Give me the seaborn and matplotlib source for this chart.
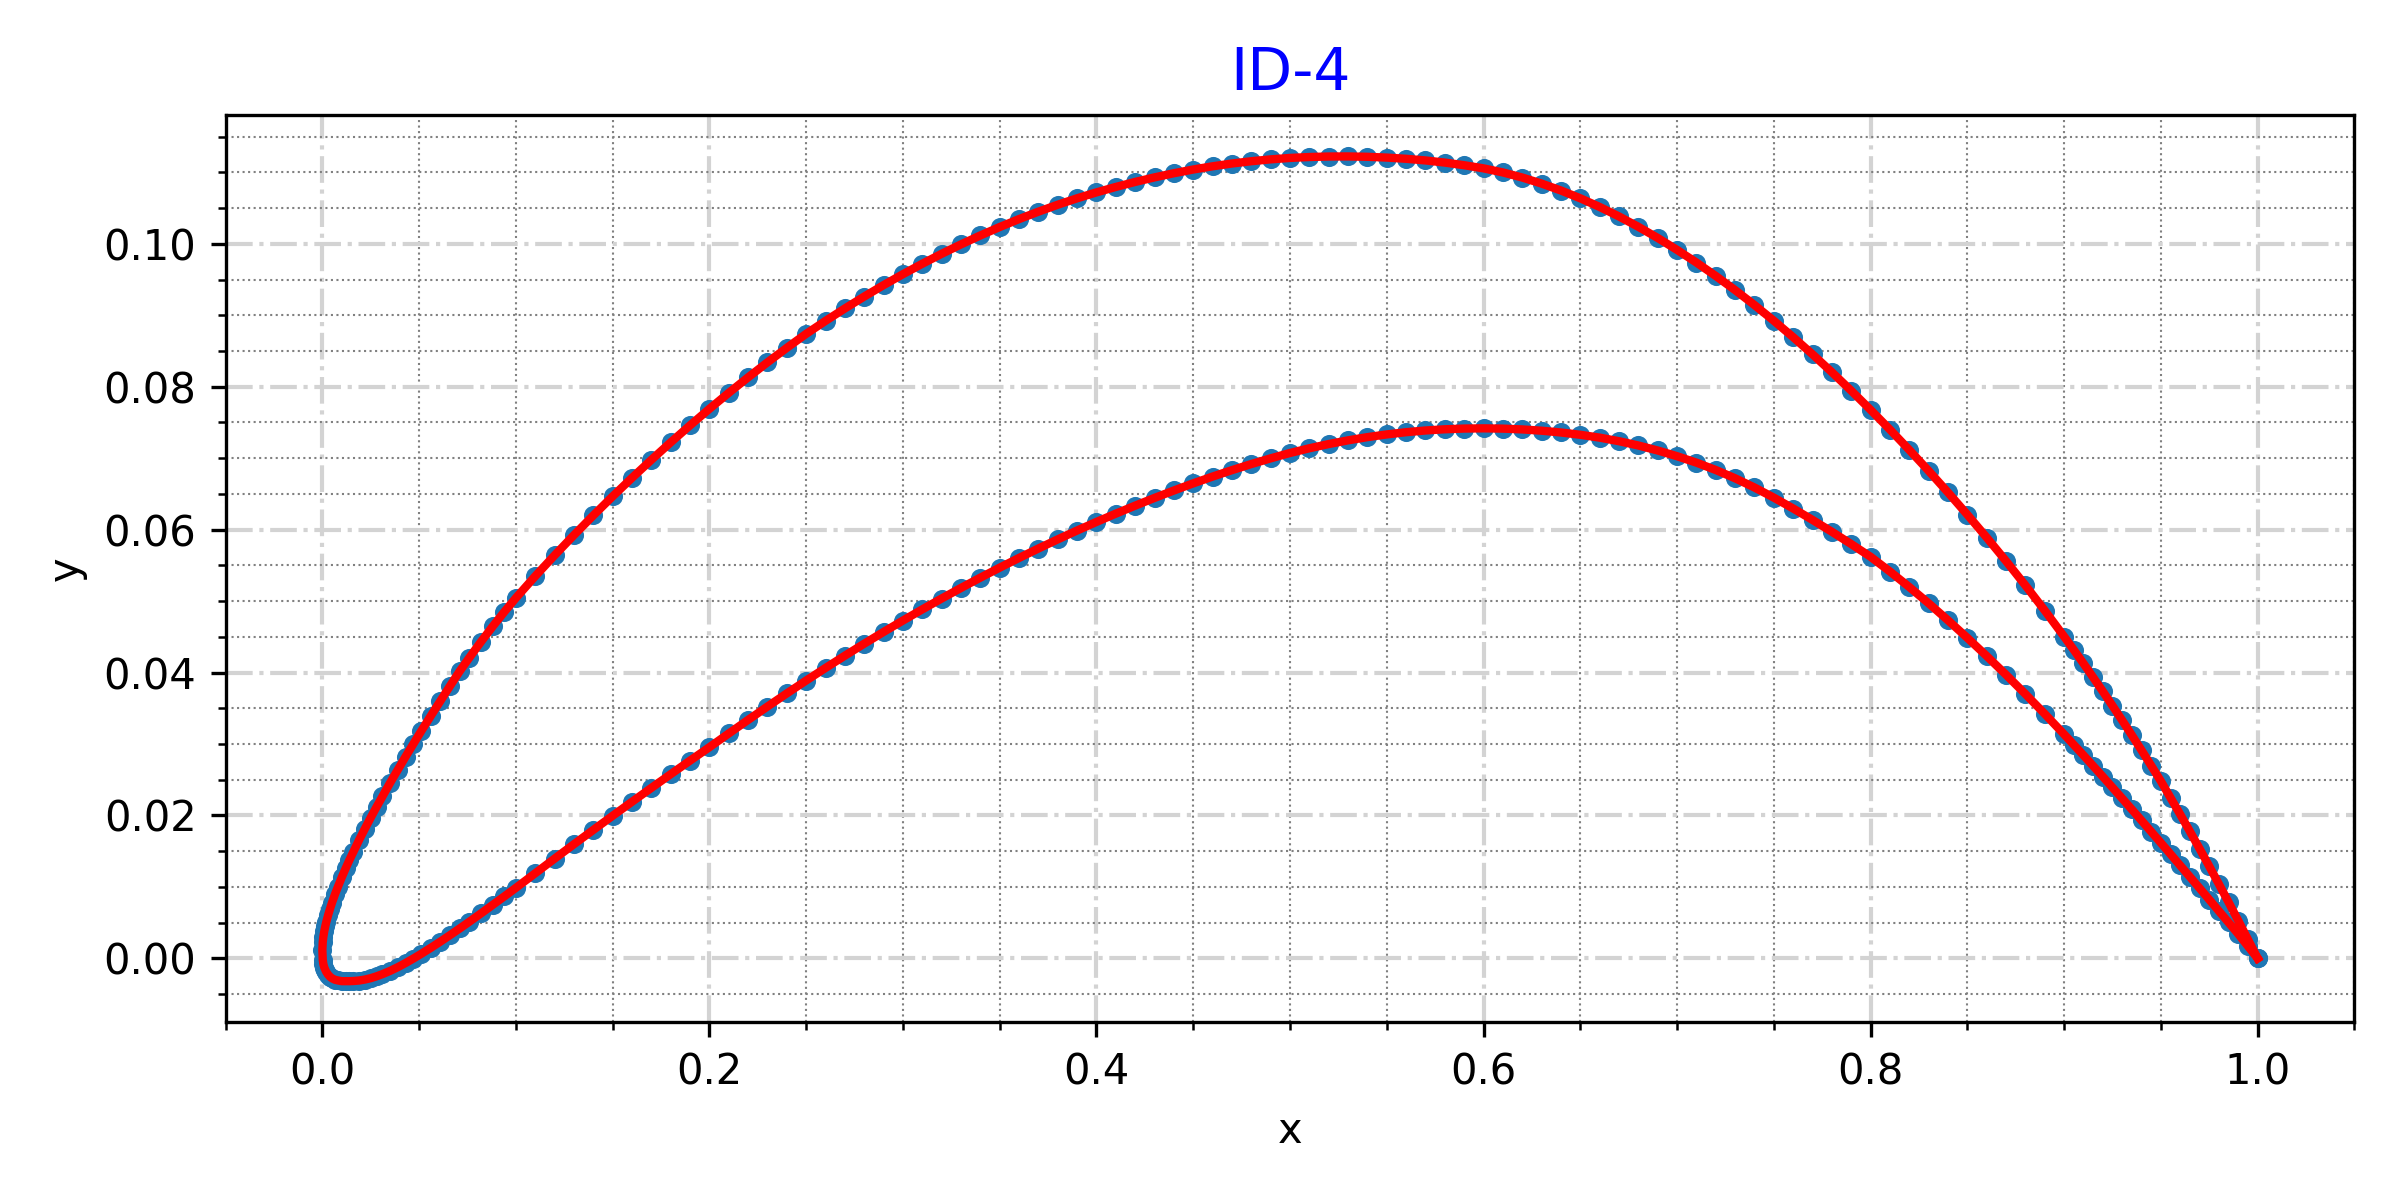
import pandas as pd
import seaborn as sns
import matplotlib
matplotlib.use("Agg")
import matplotlib.pyplot as plt

# Stations along the chord (shared by both surfaces)
x_stations = [
    0.0000, 0.0002, 0.0005, 0.0010, 0.0015, 0.0020, 0.0030, 0.0040, 0.0050, 0.0065,
    0.0080, 0.0100, 0.0120, 0.0140, 0.0160, 0.0190, 0.0220, 0.0250, 0.0280, 0.0310,
    0.0350, 0.0390, 0.0430, 0.0470, 0.0510, 0.0560, 0.0610, 0.0660, 0.0710, 0.0760,
    0.0820, 0.0880, 0.0940,
    0.10, 0.11, 0.12, 0.13, 0.14, 0.15, 0.16, 0.17, 0.18, 0.19,
    0.20, 0.21, 0.22, 0.23, 0.24, 0.25, 0.26, 0.27, 0.28, 0.29,
    0.30, 0.31, 0.32, 0.33, 0.34, 0.35, 0.36, 0.37, 0.38, 0.39,
    0.40, 0.41, 0.42, 0.43, 0.44, 0.45, 0.46, 0.47, 0.48, 0.49,
    0.50, 0.51, 0.52, 0.53, 0.54, 0.55, 0.56, 0.57, 0.58, 0.59,
    0.60, 0.61, 0.62, 0.63, 0.64, 0.65, 0.66, 0.67, 0.68, 0.69,
    0.70, 0.71, 0.72, 0.73, 0.74, 0.75, 0.76, 0.77, 0.78, 0.79,
    0.80, 0.81, 0.82, 0.83, 0.84, 0.85, 0.86, 0.87, 0.88, 0.89,
    0.900, 0.905, 0.910, 0.915, 0.920, 0.925, 0.930, 0.935, 0.940, 0.945,
    0.950, 0.955, 0.960, 0.965, 0.970, 0.975, 0.980, 0.985, 0.990, 0.995,
    1.000,
]

# Upper (suction) surface
y_upper = [
    0.00120, 0.00230, 0.00299, 0.00381, 0.00448, 0.00506, 0.00607, 0.00697, 0.00780, 0.00894,
    0.00999, 0.01132, 0.01257, 0.01377, 0.01491, 0.01657, 0.01816, 0.01970, 0.02119, 0.02265,
    0.02456, 0.02641, 0.02823, 0.03001, 0.03177, 0.03392, 0.03604, 0.03814, 0.04020, 0.04210,
    0.04432, 0.04645, 0.04849,
    0.05044, 0.05349, 0.05641, 0.05924, 0.06199, 0.06466, 0.06725, 0.06977, 0.07222, 0.07460,
    0.07691, 0.07915, 0.08132, 0.08342, 0.08545, 0.08741, 0.08922, 0.09096, 0.09263, 0.09423,
    0.09576, 0.09722, 0.09861, 0.09993, 0.10118, 0.10236, 0.10347, 0.10451, 0.10548, 0.10638,
    0.10721, 0.10797, 0.10867, 0.10931, 0.10989, 0.11041, 0.11086, 0.11125, 0.11157, 0.11183,
    0.11203, 0.11216, 0.11223, 0.11224, 0.11219, 0.11208, 0.11191, 0.11168, 0.11138, 0.11101,
    0.11057, 0.11000, 0.10929, 0.10844, 0.10747, 0.10638, 0.10517, 0.10384, 0.10239, 0.10083,
    0.09916, 0.09739, 0.09551, 0.09353, 0.09144, 0.08924, 0.08694, 0.08454, 0.08204, 0.07945,
    0.07677, 0.07401, 0.07116, 0.06823, 0.06521, 0.06210, 0.05890, 0.05560, 0.05220, 0.04868,
    0.04504, 0.04317, 0.04127, 0.03933, 0.03736, 0.03535, 0.03331, 0.03123, 0.02912, 0.02697,
    0.02479, 0.02248, 0.02014, 0.01776, 0.01534, 0.01288, 0.01038, 0.00784, 0.00526, 0.00264,
    0.00000,
]

# Lower (pressure) surface
y_lower = [
    0.00120, -0.00020, -0.00080, -0.00130, -0.00160, -0.00190, -0.00230, -0.00260, -0.00280, -0.00300,
    -0.00310, -0.00320, -0.00320, -0.00320, -0.00318, -0.00311, -0.00297, -0.00278, -0.00252, -0.00222,
    -0.00176, -0.00124, -0.00066, -0.00004, 0.00061, 0.00146, 0.00234, 0.00325, 0.00418, 0.00513,
    0.00629, 0.00747, 0.00866,
    0.00986, 0.01191, 0.01395, 0.01597, 0.01797, 0.01995, 0.02191, 0.02385, 0.02577, 0.02767,
    0.02955, 0.03147, 0.03337, 0.03524, 0.03708, 0.03888, 0.04064, 0.04236, 0.04404, 0.04568,
    0.04728, 0.04884, 0.05036, 0.05184, 0.05328, 0.05468, 0.05604, 0.05736, 0.05864, 0.05988,
    0.06108, 0.06224, 0.06336, 0.06444, 0.06548, 0.06648, 0.06743, 0.06833, 0.06918, 0.06998,
    0.07073, 0.07139, 0.07198, 0.07250, 0.07295, 0.07333, 0.07364, 0.07388, 0.07405, 0.07415,
    0.07418, 0.07414, 0.07403, 0.07385, 0.07360, 0.07328, 0.07288, 0.07238, 0.07178, 0.07108,
    0.07028, 0.06938, 0.06835, 0.06719, 0.06590, 0.06448, 0.06296, 0.06136, 0.05970, 0.05798,
    0.05620, 0.05414, 0.05197, 0.04969, 0.04731, 0.04485, 0.04231, 0.03969, 0.03699, 0.03421,
    0.03135, 0.02989, 0.02842, 0.02693, 0.02543, 0.02391, 0.02238, 0.02084, 0.01929, 0.01773,
    0.01616, 0.01458, 0.01300, 0.01141, 0.00982, 0.00822, 0.00662, 0.00502, 0.00340, 0.00170,
    0.00000,
]

profile_id = "ID-4"

# closed contour: TE -> upper -> LE -> lower -> TE
xs = x_stations[::-1] + x_stations[1:]
ys = y_upper[::-1] + y_lower[1:]
df = pd.DataFrame({"x": xs, "y": ys})

fig, ax = plt.subplots(figsize=(8, 4), dpi=300)
fig.subplots_adjust(left=0.094, right=0.981, top=0.904, bottom=0.148)

sns.scatterplot(data=df, x="x", y="y", ax=ax, color="#1f77b4", s=21,
                linewidth=0, zorder=2)
sns.lineplot(data=df, x="x", y="y", ax=ax, sort=False, estimator=None,
             color="red", linewidth=2.0, zorder=3)

ax.set_title(profile_id, color="blue", fontsize=14)
ax.set_xlabel("x")
ax.set_ylabel("y")

ax.minorticks_on()
ax.set_axisbelow(True)
ax.grid(which="major", linestyle="-.", color="lightgray", linewidth=1.0)
ax.grid(which="minor", linestyle=":", color="gray", linewidth=0.5)

fig.savefig("out.png", dpi=300)
